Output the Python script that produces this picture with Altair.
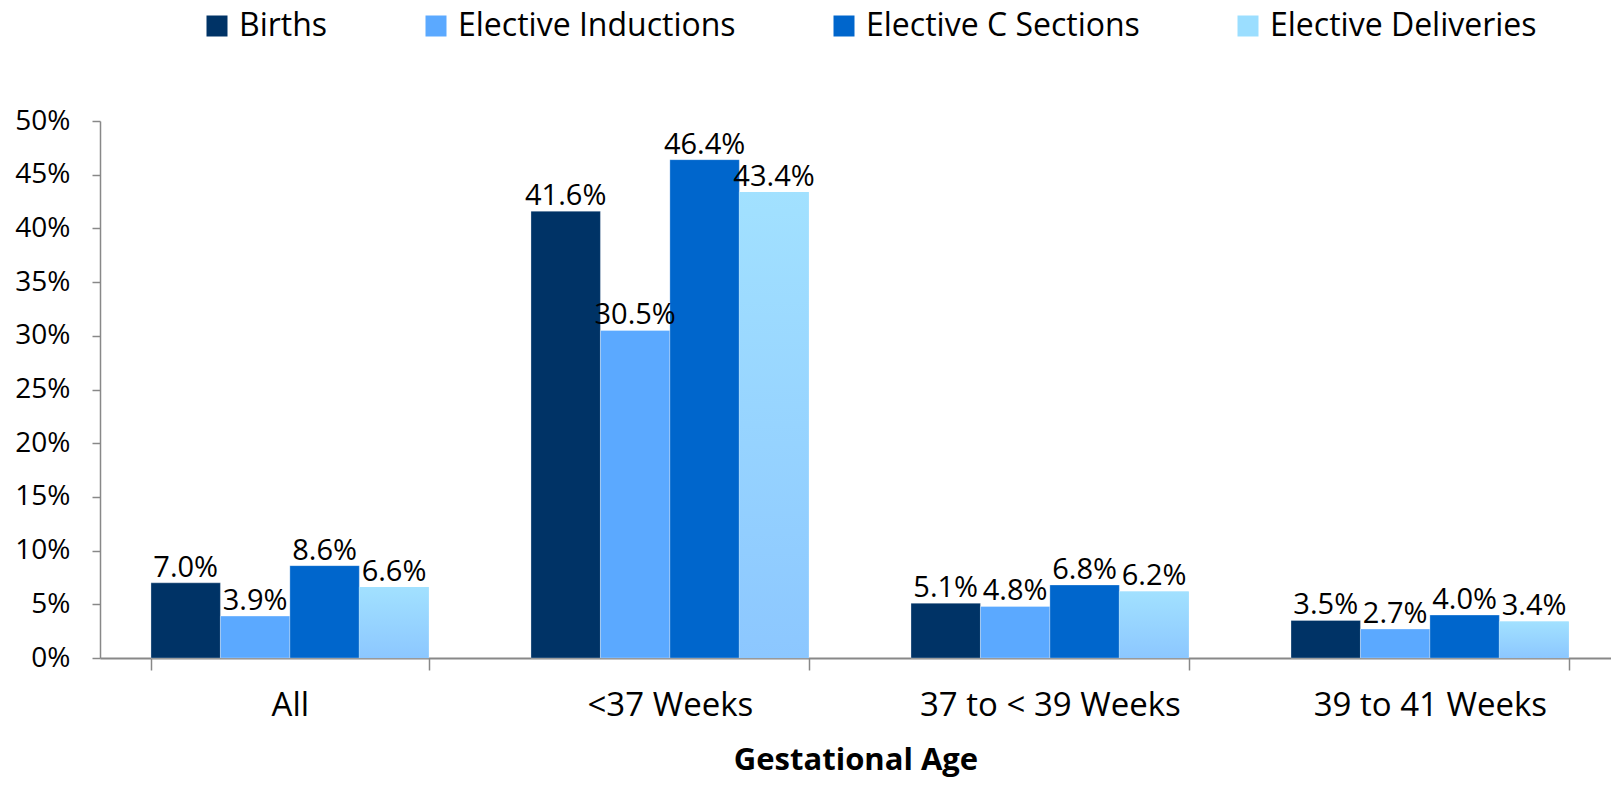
import altair as alt
import pandas as pd

categories = ["All", "<37 Weeks", "37 to < 39 Weeks", "39 to 41 Weeks"]
series = ["Births", "Elective Inductions", "Elective C Sections", "Elective Deliveries"]
births = [7.0, 41.6, 5.1, 3.5]
inductions = [3.9, 30.5, 4.8, 2.7]
csections = [8.6, 46.4, 6.8, 4.0]
deliveries = [6.6, 43.4, 6.2, 3.4]
colors = ["#003366", "#5BA9FF", "#0066CC", "#9BDEFF"]
y_ticks = [0, 0.05, 0.10, 0.15, 0.20, 0.25, 0.30, 0.35, 0.40, 0.45, 0.50]

rows = []
for s, vals in zip(series, [births, inductions, csections, deliveries]):
    for c, v in zip(categories, vals):
        rows.append({"category": c, "series": s, "value": v / 100, "label": f"{v:.1f}%"})
df = pd.DataFrame(rows)

FONT = "Open Sans"

x_enc = alt.X(
    "category:N",
    sort=categories,
    scale=alt.Scale(paddingInner=0.269, paddingOuter=0.1226, align=0.547),
    axis=alt.Axis(
        title="Gestational Age",
        labelAngle=0,
        tickBand="extent",
        domainColor="#888888",
        domainWidth=2,
        tickColor="#888888",
        tickWidth=1.5,
        tickSize=12,
        labelFontSize=33,
        labelColor="#000000",
        labelPadding=19,
        labelLimit=500,
        titleFontSize=31,
        titleFontWeight="bold",
        titleColor="#000000",
        titlePadding=23,
        labelFont=FONT,
        titleFont=FONT,
    ),
)
xoff_enc = alt.XOffset("series:N", sort=series, scale=alt.Scale(paddingInner=0, paddingOuter=0))
y_enc = alt.Y(
    "value:Q",
    scale=alt.Scale(domain=[0, 0.5]),
    axis=alt.Axis(
        title=None,
        format=".0%",
        values=y_ticks,
        grid=False,
        domainColor="#888888",
        domainWidth=1.5,
        tickColor="#888888",
        tickWidth=1.5,
        tickSize=8,
        labelFontSize=28,
        labelColor="#000000",
        labelPadding=22,
        labelFont=FONT,
    ),
)

base = alt.Chart(df)

bars = base.mark_bar(stroke="#ffffff", strokeWidth=0.5, strokeOpacity=0.6).encode(
    x=x_enc,
    xOffset=xoff_enc,
    y=y_enc,
    color=alt.Color(
        "series:N",
        sort=series,
        scale=alt.Scale(domain=series, range=colors),
        legend=alt.Legend(
            title=None,
            orient="none",
            legendX=101,
            legendY=-111,
            direction="horizontal",
            columns=4,
            columnPadding=92,
            symbolType="square",
            symbolSize=441,
            symbolStrokeWidth=0,
            labelFontSize=32,
            labelFont=FONT,
            labelColor="#000000",
            labelOffset=6,
            labelLimit=500,
        ),
    ),
)

grad = base.transform_filter(alt.datum.series == "Elective Deliveries").mark_bar(
    color=alt.Gradient(
        gradient="linear",
        stops=[alt.GradientStop(color="#A2E1FF", offset=0), alt.GradientStop(color="#8CC7FF", offset=1)],
        x1=0, x2=0, y1=0, y2=1,
    )
).encode(x=x_enc, xOffset=xoff_enc, y=y_enc)

labels = base.mark_text(baseline="bottom", dy=0, fontSize=29, font=FONT, color="#000000").encode(
    x=x_enc, xOffset=xoff_enc, y=y_enc, text="label:N"
)

chart = (
    alt.layer(bars, grad, labels)
    .properties(
        width=1511,
        height=537,
        autosize=alt.AutoSizeParams(type="none"),
        padding={"left": 92, "top": 113, "right": 0, "bottom": 119},
        background="#ffffff",
    )
    .configure_view(stroke=None)
)

chart.save("out.html", embed_options={"renderer": "svg", "actions": False})
